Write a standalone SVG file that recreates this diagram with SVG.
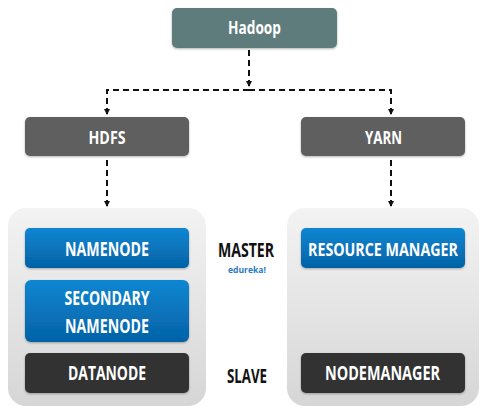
<svg xmlns="http://www.w3.org/2000/svg" width="480" height="408" viewBox="0 0 480 408">
<defs>
<linearGradient id="gCont" x1="0" y1="0" x2="0" y2="1">
<stop offset="0" stop-color="#f3f3f3"/>
<stop offset="1" stop-color="#d6d6d6"/>
</linearGradient>
<linearGradient id="gBlue" x1="0" y1="0" x2="0" y2="1">
<stop offset="0" stop-color="#0b86d2"/>
<stop offset="1" stop-color="#0562a6"/>
</linearGradient>
<marker id="arr" viewBox="0 0 6 6" refX="5" refY="3" markerWidth="3" markerHeight="3" orient="auto" markerUnits="strokeWidth">
<path d="M0,0 L6,3 L0,6 Z" fill="#111"/>
</marker>
<filter id="sh" x="-5%" y="-10%" width="110%" height="130%">
<feDropShadow dx="0" dy="1" stdDeviation="1" flood-color="#000" flood-opacity="0.3"/>
</filter>
</defs>
<style>
.t{font-family:"Open Sans","Liberation Sans",sans-serif;font-weight:bold;fill:#fff;text-anchor:middle}
.k{font-family:"Open Sans","Liberation Sans",sans-serif;font-weight:bold;fill:#111;text-anchor:middle}
.c{fill:none;stroke:#111;stroke-width:2;stroke-dasharray:6 4}
.blue{fill:url(#gBlue);filter:url(#sh)}
.dark{fill:#333333;filter:url(#sh)}
.grey{fill:#5f5f5f;filter:url(#sh)}
.cont{fill:url(#gCont)}
</style>
<g id="containers">
<rect class="cont" x="8" y="208" width="198" height="198" rx="18"/>
<rect class="cont" x="287" y="208" width="192" height="198" rx="18"/>
</g>
<g id="connectors">
<path class="c" d="M249,50 V86" marker-end="url(#arr)"/>
<path class="c" d="M249,90 H107 V114" marker-end="url(#arr)"/>
<path class="c" d="M249,90 H391 V114" marker-end="url(#arr)"/>
<path class="c" d="M107,160 V206" marker-end="url(#arr)"/>
<path class="c" d="M391,160 V206" marker-end="url(#arr)"/>
</g>
<g id="hadoop">
<rect x="172" y="8" width="165" height="40" rx="5" fill="#5f7b7d" filter="url(#sh)"/>
<text class="t" x="254.5" y="34" font-size="17" textLength="53" lengthAdjust="spacingAndGlyphs">Hadoop</text>
</g>
<g id="hdfs">
<rect class="grey" x="25" y="117" width="164" height="39" rx="5"/>
<text class="t" x="107" y="144" font-size="17" textLength="37" lengthAdjust="spacingAndGlyphs">HDFS</text>
</g>
<g id="yarn">
<rect class="grey" x="301" y="117" width="164" height="39" rx="5"/>
<text class="t" x="383.5" y="144" font-size="17" textLength="37" lengthAdjust="spacingAndGlyphs">YARN</text>
</g>
<g id="namenode">
<rect class="blue" x="25" y="228" width="164" height="40" rx="5"/>
<text class="t" x="107" y="256" font-size="19" textLength="84" lengthAdjust="spacingAndGlyphs">NAMENODE</text>
</g>
<g id="secondary-namenode">
<rect class="blue" x="25" y="280" width="164" height="62" rx="6"/>
<text class="t" x="107" y="305" font-size="19" textLength="85" lengthAdjust="spacingAndGlyphs">SECONDARY</text>
<text class="t" x="107" y="333" font-size="19" textLength="84" lengthAdjust="spacingAndGlyphs">NAMENODE</text>
</g>
<g id="datanode">
<rect class="dark" x="25" y="353" width="164" height="40" rx="5"/>
<text class="t" x="107" y="380" font-size="19" textLength="78" lengthAdjust="spacingAndGlyphs">DATANODE</text>
</g>
<g id="resource-manager">
<rect class="blue" x="301" y="228" width="164" height="40" rx="5"/>
<text class="t" x="383" y="256" font-size="18" textLength="150" lengthAdjust="spacingAndGlyphs">RESOURCE MANAGER</text>
</g>
<g id="nodemanager">
<rect class="dark" x="301" y="353" width="164" height="40" rx="5"/>
<text class="t" x="382.5" y="380" font-size="19" textLength="115" lengthAdjust="spacingAndGlyphs">NODEMANAGER</text>
</g>
<g id="labels">
<text class="k" x="246" y="257" font-size="19" textLength="56" lengthAdjust="spacingAndGlyphs">MASTER</text>
<text x="247" y="273" font-family="'Open Sans','Liberation Sans',sans-serif" font-weight="bold" font-size="8.5" fill="#2a7bc2" text-anchor="middle" textLength="38" lengthAdjust="spacingAndGlyphs">edureka!</text>
<text class="k" x="247" y="383" font-size="19" textLength="40" lengthAdjust="spacingAndGlyphs">SLAVE</text>
</g>
</svg>
